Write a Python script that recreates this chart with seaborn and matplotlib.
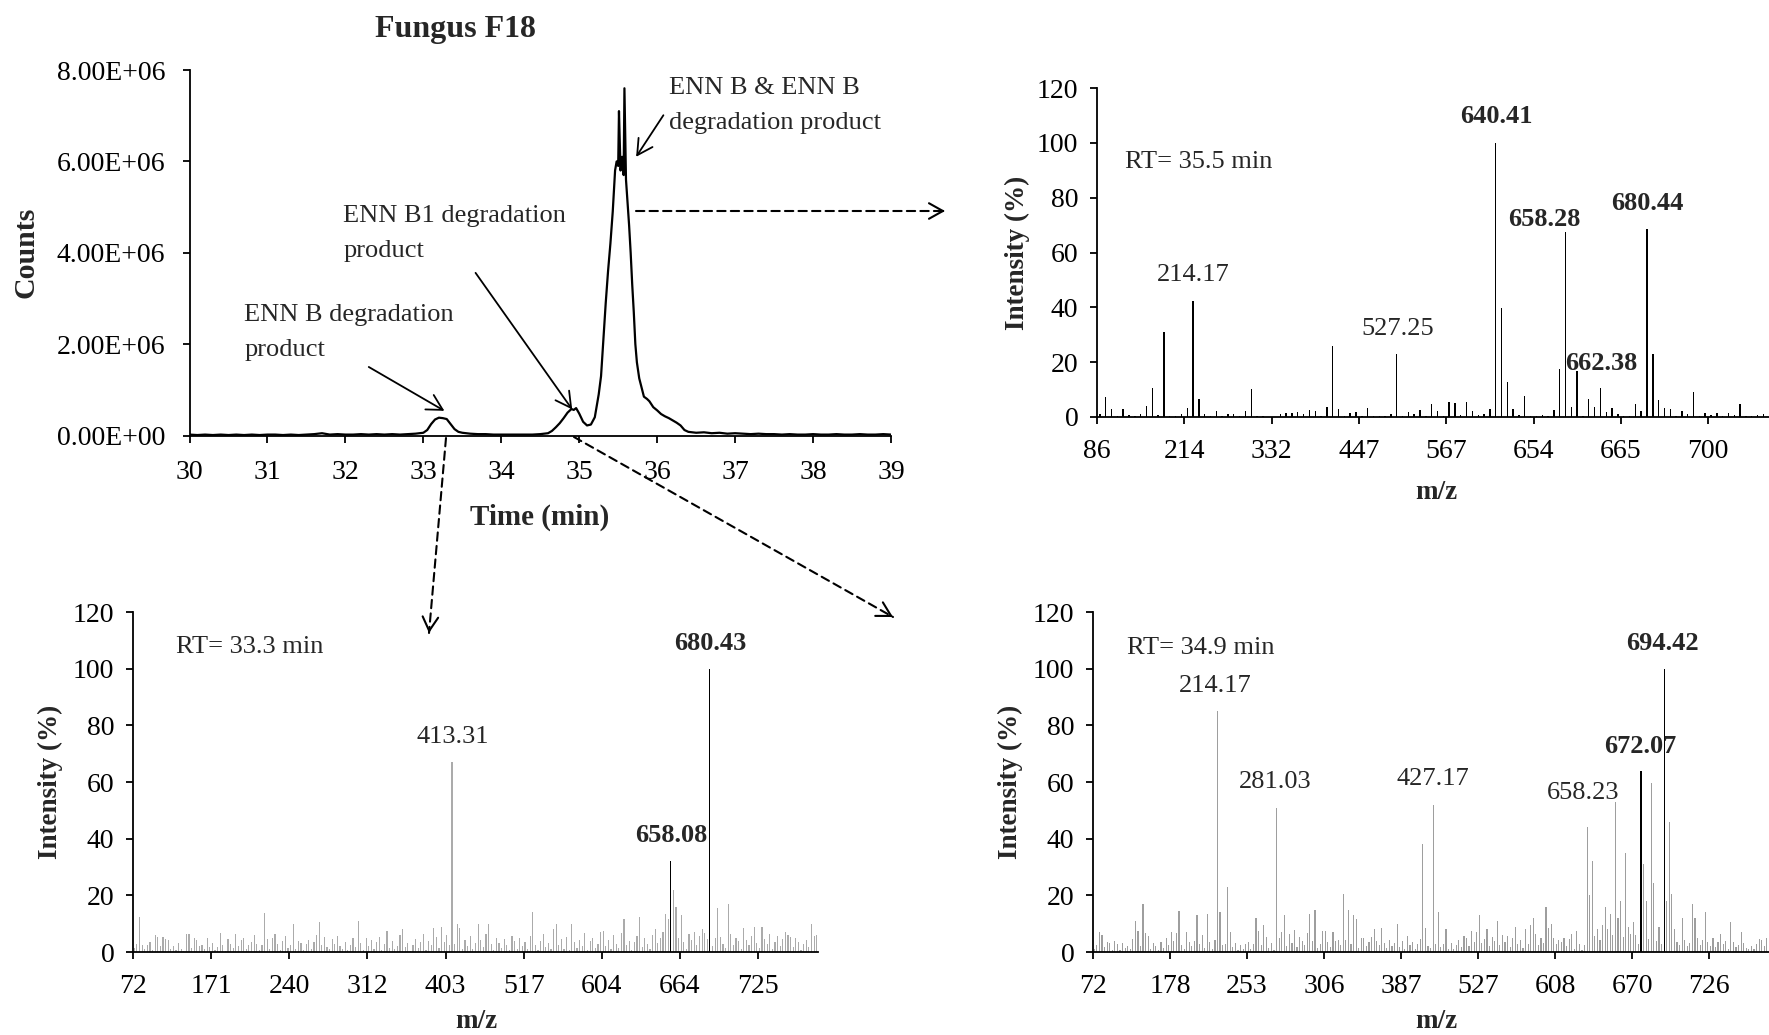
import numpy as np
import pandas as pd
import matplotlib
matplotlib.use("Agg")
import matplotlib.pyplot as plt
from matplotlib.patches import FancyArrowPatch
import seaborn as sns

# ---------------- data ----------------
# chromatogram (time in min, counts in millions)
chrom_time = [30.0, 30.1, 30.2, 30.3, 30.4, 30.5, 30.6, 30.7, 30.8, 30.9,
              31.0, 31.1, 31.2, 31.3, 31.4, 31.5, 31.6, 31.7, 31.8, 31.9,
              32.0, 32.1, 32.2, 32.3, 32.4, 32.5, 32.6, 32.7, 32.8, 32.9,
              33.0, 33.05, 33.1, 33.15, 33.2, 33.25, 33.3, 33.35, 33.4, 33.45,
              33.5, 33.6, 33.7, 33.8, 33.9, 34.0, 34.1, 34.2, 34.3, 34.4,
              34.5, 34.6, 34.65, 34.7, 34.75, 34.8, 34.85, 34.9, 34.93, 34.96,
              35.0, 35.05, 35.1, 35.15, 35.2, 35.25, 35.28, 35.31, 35.34, 35.37,
              35.40, 35.43, 35.46, 35.48, 35.50, 35.51, 35.53, 35.55, 35.57, 35.58,
              35.60, 35.62, 35.64, 35.66, 35.68, 35.70, 35.72, 35.74, 35.77, 35.80,
              35.83, 35.87, 35.90, 35.95, 36.0, 36.05, 36.1, 36.15, 36.2, 36.25,
              36.3, 36.35, 36.4, 36.5, 36.6, 36.7, 36.8, 36.9, 37.0, 37.1,
              37.2, 37.3, 37.4, 37.5, 37.6, 37.7, 37.8, 37.9, 38.0, 38.1,
              38.2, 38.3, 38.4, 38.5, 38.6, 38.7, 38.8, 38.9, 39.0]
chrom_counts_millions = [0.02, 0.01, 0.02, 0.01, 0.02, 0.01, 0.02, 0.01, 0.02, 0.01,
                         0.02, 0.02, 0.01, 0.02, 0.01, 0.02, 0.03, 0.05, 0.02, 0.03,
                         0.02, 0.02, 0.03, 0.02, 0.03, 0.02, 0.03, 0.02, 0.03, 0.04,
                         0.06, 0.12, 0.25, 0.35, 0.39, 0.38, 0.36, 0.25, 0.14, 0.08,
                         0.06, 0.04, 0.03, 0.03, 0.02, 0.02, 0.02, 0.02, 0.02, 0.02,
                         0.03, 0.05, 0.10, 0.18, 0.27, 0.38, 0.50, 0.58, 0.56, 0.60,
                         0.48, 0.30, 0.22, 0.24, 0.40, 0.90, 1.30, 2.10, 2.90, 3.60,
                         4.20, 4.90, 5.80, 6.00, 5.90, 7.10, 5.80, 6.10, 5.70, 7.60,
                         5.60, 5.10, 4.60, 4.00, 3.30, 2.70, 2.00, 1.60, 1.25, 1.05,
                         0.85, 0.80, 0.75, 0.62, 0.55, 0.47, 0.42, 0.38, 0.33, 0.28,
                         0.22, 0.12, 0.08, 0.06, 0.07, 0.05, 0.06, 0.04, 0.05, 0.04,
                         0.03, 0.04, 0.03, 0.03, 0.02, 0.03, 0.02, 0.02, 0.03, 0.02,
                         0.02, 0.03, 0.02, 0.02, 0.03, 0.02, 0.02, 0.03, 0.02]
time_tick_labels = ["30", "31", "32", "33", "34", "35", "36", "37", "38", "39"]
count_tick_labels = ["0.00E+00", "2.00E+06", "4.00E+06", "6.00E+06", "8.00E+06"]

# spectrum RT = 35.5 min (top right)
ms355_intensity = [1.2, 7.3, 3.0, 0.3, 2.9, 0.9, 0.5, 1.0, 4.1, 10.5,
                   0.9, 30.9, 0.5, 0.3, 1.0, 3.3, 42.3, 6.6, 1.0, 0.2,
                   2.1, 0.2, 1.0, 1.0, 0.2, 2.1, 10.1, 0.2, 0.5, 0.0,
                   0.1, 1.2, 1.6, 1.4, 1.8, 1.0, 2.6, 2.1, 0.3, 3.5,
                   25.9, 2.8, 0.4, 1.5, 2.0, 0.3, 3.3, 0.3, 0.2, 0.4,
                   1.0, 22.9, 0.3, 1.9, 1.2, 2.4, 0.3, 4.9, 2.2, 0.3,
                   5.5, 5.2, 0.6, 5.5, 2.2, 0.7, 1.0, 2.9, 100.0, 39.9,
                   12.9, 3.1, 0.6, 7.7, 0.3, 0.2, 0.6, 0.2, 2.5, 17.4,
                   67.6, 3.7, 16.9, 0.4, 6.7, 3.7, 10.7, 1.8, 3.4, 1.2,
                   0.4, 0.4, 4.9, 2.2, 68.6, 22.8, 6.1, 3.3, 3.1, 0.3,
                   2.2, 1.2, 9.1, 0.3, 1.5, 0.9, 1.5, 0.3, 1.5, 0.6,
                   4.9, 0.3, 0.3, 0.7, 1.0, 0.8, 1.2, 0.5]
ms355_tick_labels = ["86", "214", "332", "447", "567", "654", "665", "700"]
ms355_peak_labels = ["214.17", "527.25", "640.41", "658.28", "662.38", "680.44"]
ms355_peak_bold = [False, False, True, True, True, True]

# spectrum RT = 33.3 min (bottom left)
ms333_intensity = [
    1.5, 3.0, 12.4, 2.4, 1.0, 2.5, 3.5, 0.8, 5.9, 5.3, 2.0, 5.2, 4.7, 4.4, 1.2,
    2.2, 0.6, 3.3, 1.0, 0.5, 6.2, 6.5, 1.4, 4.8, 4.3, 2.0, 2.6, 0.9, 5.1, 1.7,
    3.3, 0.6, 1.7, 6.7, 2.3, 0.5, 4.5, 3.0, 1.3, 6.5, 2.1, 4.2, 5.1, 0.9, 2.4,
    3.6, 6.0, 3.0, 0.7, 2.4, 13.9, 4.6, 1.2, 5.0, 6.4, 2.7, 0.8, 3.8, 5.7, 1.5,
    2.5, 10.0, 1.0, 4.0, 3.2, 0.6, 2.8, 4.4, 1.1, 3.5, 6.0, 10.5, 2.3, 5.4, 1.8,
    0.9, 4.6, 3.0, 5.5, 2.0, 1.2, 3.7, 0.7, 2.6, 4.8, 1.6, 11.0, 3.1, 0.8, 5.0,
    2.2, 4.1, 1.0, 3.4, 5.2, 0.6, 2.7, 7.5, 1.4, 3.9, 0.9, 2.0, 6.1, 8.0, 1.7,
    3.2, 0.5, 2.5, 4.7, 1.3, 3.6, 6.2, 0.8, 4.0, 2.3, 8.5, 5.3, 1.5, 9.0, 3.4,
    6.0, 2.4, 67.0, 3.0, 10.0, 8.5, 1.2, 4.4, 2.0, 5.7, 0.9, 3.1, 10.0, 4.2, 1.6,
    6.5, 10.0, 2.8, 0.7, 5.1, 3.3, 1.4, 4.6, 2.5, 0.8, 5.8, 3.9, 1.1, 4.9, 2.2,
    3.5, 1.0, 5.5, 14.0, 2.3, 0.6, 4.0, 6.3, 1.8, 3.1, 0.9, 8.0, 10.0, 2.6, 4.7,
    1.2, 5.2, 0.7, 10.0, 3.6, 1.5, 4.3, 2.0, 6.8, 0.8, 3.9, 5.0, 1.4, 2.7, 7.0,
    7.5, 2.1, 4.4, 0.9, 5.9, 3.0, 1.3, 6.6, 11.5, 2.4, 4.0, 0.7, 3.5, 5.6, 12.5,
    1.9, 4.8, 2.7, 0.9, 6.0, 8.0, 3.3, 5.1, 7.2, 13.5, 11.5, 32.0, 22.0, 16.0, 5.0,
    13.0, 3.4, 1.2, 6.4, 4.1, 7.0, 2.3, 5.5, 8.0, 6.7, 4.5, 100.0, 2.0, 4.9, 15.5,
    5.2, 3.0, 1.4, 17.0, 6.3, 2.6, 5.0, 3.8, 1.0, 8.5, 4.2, 2.3, 5.7, 9.0, 3.1,
    1.5, 9.0, 4.6, 2.8, 6.2, 0.9, 3.7, 5.8, 2.2, 4.5, 7.0, 6.0, 5.3, 1.8, 4.8,
    3.4, 0.8, 2.9, 4.2, 1.6, 10.0, 5.5, 6.0]
ms333_tick_labels = ["72", "171", "240", "312", "403", "517", "604", "664", "725"]
ms333_peak_labels = ["413.31", "658.08", "680.43"]
ms333_peak_bold = [False, True, True]

# spectrum RT = 34.9 min (bottom right)
ms349_intensity = [
    1.0, 2.5, 7.0, 6.0, 1.8, 3.5, 3.2, 0.8, 4.0, 2.7, 0.6, 3.1, 1.4, 2.2, 0.9,
    4.6, 11.0, 7.5, 2.0, 17.0, 6.8, 5.5, 1.2, 3.3, 2.1, 0.7, 3.6, 1.5, 4.8, 2.4,
    7.2, 3.8, 6.8, 14.5, 2.5, 1.0, 7.0, 3.4, 2.2, 4.0, 13.0, 2.8, 6.0, 1.3, 13.5,
    3.6, 0.9, 4.2, 85.0, 14.0, 2.6, 3.0, 23.0, 7.0, 1.7, 3.2, 0.8, 2.4, 1.0, 2.7,
    3.5, 1.2, 2.9, 12.0, 7.5, 2.6, 9.5, 5.3, 1.4, 3.3, 0.8, 51.0, 5.0, 7.2, 13.0,
    2.2, 6.3, 3.1, 7.9, 1.6, 5.2, 3.8, 2.6, 6.6, 13.5, 4.0, 15.0, 1.3, 2.9, 7.5,
    7.5, 3.5, 1.8, 7.0, 3.9, 4.4, 2.6, 20.5, 4.2, 15.0, 3.0, 13.0, 11.5, 1.4, 4.8,
    5.0, 2.2, 3.7, 5.3, 8.0, 4.0, 2.6, 8.5, 3.1, 1.5, 4.2, 2.0, 3.3, 10.0, 1.6,
    3.8, 1.2, 5.5, 2.4, 3.6, 1.0, 2.8, 4.5, 38.0, 8.5, 2.2, 1.4, 52.0, 3.0, 14.0,
    1.8, 2.7, 8.0, 1.1, 3.2, 0.9, 2.5, 4.3, 1.6, 5.8, 4.9, 2.0, 7.5, 3.4, 7.2,
    13.0, 3.1, 4.6, 8.2, 2.0, 5.4, 4.0, 11.0, 2.4, 6.1, 3.6, 5.5, 1.9, 4.8, 9.0,
    2.7, 4.4, 1.5, 8.0, 3.0, 9.5, 12.0, 6.2, 2.5, 5.0, 3.3, 16.0, 8.4, 10.0, 5.1,
    2.8, 4.2, 3.6, 5.0, 2.1, 4.6, 6.5, 1.2, 7.5, 3.0, 0.8, 2.4, 44.0, 20.0, 32.0,
    5.6, 8.0, 4.4, 9.5, 16.0, 8.0, 13.5, 6.0, 53.0, 12.0, 18.0, 5.2, 35.0, 9.0, 6.4,
    10.5, 6.0, 3.0, 64.0, 31.0, 18.0, 4.5, 59.5, 24.5, 4.0, 9.0, 3.0, 100.0, 18.0, 46.0,
    20.5, 8.0, 3.5, 2.6, 12.0, 4.2, 2.0, 3.3, 17.0, 12.0, 5.0, 2.4, 4.1, 14.0, 3.6,
    2.2, 5.0, 1.6, 3.4, 6.5, 2.8, 4.0, 1.2, 10.5, 3.6, 1.8, 2.5, 7.0, 3.1, 1.4,
    0.9, 2.2, 1.1, 3.0, 4.5, 4.3, 2.0, 4.8, 4.6, 3.2, 2.4, 4.0, 1.8, 3.3, 2.6]
ms349_tick_labels = ["72", "178", "253", "306", "387", "527", "608", "670", "726"]
ms349_peak_labels = ["214.17", "281.03", "427.17", "658.23", "672.07", "694.42"]
ms349_peak_bold = [False, False, False, False, True, True]

# ---------------- layout / style ----------------
W, H = 1769, 1035
sns.set_theme(style="ticks")
plt.rcParams["font.family"] = ["Liberation Serif", "DejaVu Serif"]
plt.rcParams["axes.linewidth"] = 1.3
TICK_FS = 20
PEAK_FS = 19
LAB_FS = 19.5
ANN_FS = 19

fig = plt.figure(figsize=(W / 100, H / 100), dpi=100)
fig.patch.set_facecolor("white")


def axpos(l, t, r, b):
    return [l / W, 1 - b / H, (r - l) / W, (b - t) / H]


def fpx(x, y):
    return (x / W, 1 - y / H)


def style_axes(ax, xpad, ypad):
    for s in ("top", "right"):
        ax.spines[s].set_visible(False)
    for s in ("left", "bottom"):
        ax.spines[s].set_color("black")
        ax.spines[s].set_linewidth(1.3)
    ax.tick_params(axis="both", direction="out", length=5, width=1.3,
                   colors="black", labelsize=TICK_FS)
    ax.tick_params(axis="x", pad=xpad)
    ax.tick_params(axis="y", pad=ypad)
    ax.set_xlabel("")
    ax.set_ylabel("")
    ax.set_facecolor("none")
    ax.grid(False)


# ---------- chromatogram ----------
ax_c = fig.add_axes(axpos(189.5, 70, 891, 435.5))
chrom_df = pd.DataFrame({"time": chrom_time,
                         "counts": np.array(chrom_counts_millions) * 1e6})
sns.lineplot(data=chrom_df, x="time", y="counts", ax=ax_c, color="black",
             linewidth=1.6, estimator=None)
ax_c.set_xlim(30, 39)
ax_c.set_ylim(0, 8e6)
ax_c.set_xticks(range(30, 40))
ax_c.set_xticklabels(time_tick_labels)
ax_c.set_yticks(np.arange(0, 8.01e6, 2e6))
ax_c.set_yticklabels(count_tick_labels)
style_axes(ax_c, xpad=12.5, ypad=12.5)

ax_c.text(30.70, 2.64e6, "ENN B degradation", fontsize=ANN_FS, va="center", ha="left")
ax_c.text(30.70, 1.87e6, "product", fontsize=ANN_FS, va="center", ha="left")
ax_c.text(31.97, 4.81e6, "ENN B1 degradation", fontsize=ANN_FS, va="center", ha="left")
ax_c.text(31.97, 4.04e6, "product", fontsize=ANN_FS, va="center", ha="left")
ax_c.text(36.15, 7.60e6, "ENN B & ENN B", fontsize=ANN_FS, va="center", ha="left")
ax_c.text(36.15, 6.83e6, "degradation product", fontsize=ANN_FS, va="center", ha="left")

solid_arrow = dict(arrowstyle="->,head_length=0.55,head_width=0.3", lw=1.3,
                   color="black", shrinkA=0, shrinkB=0, mutation_scale=20)
ax_c.annotate("", xy=(33.27, 0.54e6), xytext=(32.30, 1.50e6), arrowprops=solid_arrow)
ax_c.annotate("", xy=(34.91, 0.57e6), xytext=(33.67, 3.56e6), arrowprops=solid_arrow)
ax_c.annotate("", xy=(35.73, 6.10e6), xytext=(36.08, 7.01e6), arrowprops=solid_arrow)


# ---------- spectra ----------
def spectrum(pos, values, k, tick_labels, base_color, width):
    ax = fig.add_axes(pos)
    n = len(values)
    df = pd.DataFrame({"idx": np.arange(n), "intensity": values})
    sns.barplot(data=df, x="idx", y="intensity", ax=ax, color=base_color,
                saturation=1, width=width, errorbar=None, linewidth=0)
    ax.set_xlim(-0.5, n - 0.5)
    ax.set_ylim(0, 120)
    ax.set_yticks(range(0, 121, 20))
    ax.set_yticklabels([str(v) for v in range(0, 121, 20)])
    ax.set_xticks([j * k - 0.5 for j in range(len(tick_labels))])
    ax.set_xticklabels(tick_labels)
    return ax


def highlight(ax, values, peak_index, width):
    # redraw selected peaks in black on top of the gray spectrum
    n = len(values)
    vals = [values[i] if i in peak_index else 0.0 for i in range(n)]
    df = pd.DataFrame({"idx": np.arange(n), "intensity": vals})
    sns.barplot(data=df, x="idx", y="intensity", ax=ax, color="black",
                saturation=1, width=width, errorbar=None, linewidth=0)


def finish(ax, n, k, tick_labels):
    ax.set_xlim(-0.5, n - 0.5)
    ax.set_xticks([j * k - 0.5 for j in range(len(tick_labels))])
    ax.set_xticklabels(tick_labels)
    style_axes(ax, xpad=11, ypad=8.5)


# top right: RT 35.5
ax_t = spectrum(axpos(1097, 88, 1097 + 118 * 5.82, 417), ms355_intensity, 15,
                ms355_tick_labels, "black", 0.24)
finish(ax_t, len(ms355_intensity), 15, ms355_tick_labels)
ax_t.text(4.3, 93, "RT= 35.5 min", fontsize=PEAK_FS, ha="left", va="center")
t_pos = [(16.05, 51.9), (51.1, 32.0), (68.1, 109.5), (76.3, 72.0), (86.1, 19.6), (94.1, 78.0)]
for lab, b, (x, y) in zip(ms355_peak_labels, ms355_peak_bold, t_pos):
    ax_t.text(x, y, lab, fontsize=PEAK_FS, ha="center", va="center",
              fontweight="bold" if b else "normal")

# bottom left: RT 33.3
ax_bl = spectrum(axpos(133, 612, 818, 952), ms333_intensity, 30,
                 ms333_tick_labels, "#ABABAB", 0.45)
highlight(ax_bl, ms333_intensity, {206, 221}, 0.45)
finish(ax_bl, len(ms333_intensity), 30, ms333_tick_labels)
ax_bl.text(15.9, 107.8, "RT= 33.3 min", fontsize=PEAK_FS, ha="left", va="center")
bl_pos = [(122.1, 76.0), (206.3, 41.0), (221.0, 109.0)]
for lab, b, (x, y) in zip(ms333_peak_labels, ms333_peak_bold, bl_pos):
    ax_bl.text(x, y, lab, fontsize=PEAK_FS, ha="center", va="center",
               fontweight="bold" if b else "normal")

# bottom right: RT 34.9
ax_br = spectrum(axpos(1093, 612, 1093 + 270 * 2.567, 952), ms349_intensity, 30,
                 ms349_tick_labels, "#9E9E9E", 0.45)
highlight(ax_br, ms349_intensity, {213, 222}, 0.45)
finish(ax_br, len(ms349_intensity), 30, ms349_tick_labels)
ax_br.text(12.7, 107.2, "RT= 34.9 min", fontsize=PEAK_FS, ha="left", va="center")
br_pos = [(47.2, 93.9), (70.6, 60.1), (132.0, 61.0), (190.3, 56.0), (212.7, 72.5), (221.5, 109.0)]
for lab, b, (x, y) in zip(ms349_peak_labels, ms349_peak_bold, br_pos):
    ax_br.text(x, y, lab, fontsize=PEAK_FS, ha="center", va="center",
               fontweight="bold" if b else "normal")

# ---------- figure-level labels ----------
fig.text(*fpx(455, 29), "Fungus F18", fontsize=23, fontweight="bold", ha="center", va="center")
fig.text(*fpx(26, 252), "Counts", fontsize=21.5, fontweight="bold", rotation=90, ha="center", va="center")
fig.text(*fpx(540, 517), "Time (min)", fontsize=21, fontweight="bold", ha="center", va="center")
fig.text(*fpx(1017, 253), "Intensity (%)", fontsize=LAB_FS, fontweight="bold", rotation=90, ha="center", va="center")
fig.text(*fpx(1436, 492), "m/z", fontsize=LAB_FS, fontweight="bold", ha="center", va="center")
fig.text(*fpx(50, 782), "Intensity (%)", fontsize=LAB_FS, fontweight="bold", rotation=90, ha="center", va="center")
fig.text(*fpx(476, 1021), "m/z", fontsize=LAB_FS, fontweight="bold", ha="center", va="center")
fig.text(*fpx(1010, 782), "Intensity (%)", fontsize=LAB_FS, fontweight="bold", rotation=90, ha="center", va="center")
fig.text(*fpx(1436, 1021), "m/z", fontsize=LAB_FS, fontweight="bold", ha="center", va="center")


# ---------- dashed connector arrows ----------
def dashed_arrow(start, tip):
    line = FancyArrowPatch(fpx(*start), fpx(*tip), transform=fig.transFigure,
                           arrowstyle="-", linestyle=(0, (4, 2.5)), lw=1.5,
                           color="black", shrinkA=0, shrinkB=0)
    fig.add_artist(line)
    sx, sy = start
    tx, ty = tip
    d = np.hypot(tx - sx, ty - sy)
    pre = (tx - (tx - sx) / d * 3, ty - (ty - sy) / d * 3)
    head = FancyArrowPatch(fpx(*pre), fpx(*tip), transform=fig.transFigure,
                           arrowstyle="->,head_length=0.5,head_width=0.28", lw=1.5,
                           color="black", shrinkA=0, shrinkB=0, mutation_scale=20)
    fig.add_artist(head)


dashed_arrow((636, 211), (945, 211))
dashed_arrow((446, 438), (429, 633))
dashed_arrow((574, 437), (893, 617))

fig.savefig("out.png", dpi=100, facecolor="white")
